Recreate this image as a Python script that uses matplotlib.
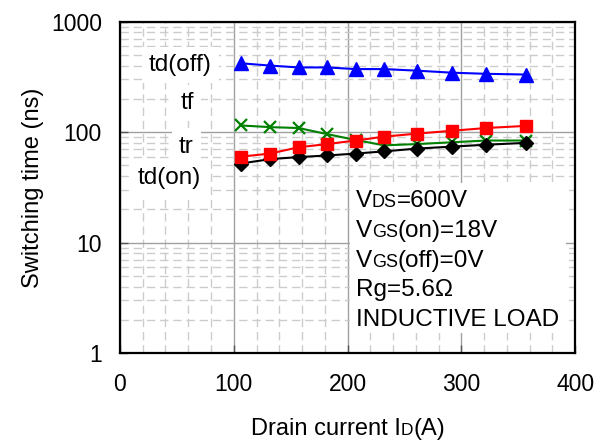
import numpy as np
import matplotlib
matplotlib.use("Agg")
import matplotlib.pyplot as plt
from matplotlib.ticker import FixedLocator, MultipleLocator, LogLocator, NullFormatter
from matplotlib.patches import Rectangle

plt.rcParams['font.family'] = ['Liberation Sans', 'DejaVu Sans']

# drain current (A) and switching times (ns)
drain_current = [106, 132, 157, 182, 207, 232, 261, 292, 322, 357]
td_off = [420, 400, 385, 385, 372, 372, 360, 345, 337, 332]
tf = [115, 111, 109, 96, 85, 76, 78, 81, 84, 84]
tr = [60, 64, 73, 78, 84, 91, 97, 103, 109, 114]
td_on = [52, 57, 59.5, 61.5, 64, 67, 71, 74, 77, 80]

y_ticks = [1, 10, 100, 1000]
x_ticks = [0, 100, 200, 300, 400]

TICK = 16.5
LABEL = 17
BIG = 17.5
SMALL = 13


def desc(big, small):
    # baseline shift between two font sizes (pt)
    return 0.212 * (big - small)


fig = plt.figure(figsize=(6.06, 4.41), dpi=100)
ax = fig.add_axes([0.198, 0.199, 0.751, 0.752])

ax.set_yscale('log')
ax.set_xlim(0, 400)
ax.set_ylim(1, 1000)

ax.xaxis.set_major_locator(FixedLocator(x_ticks))
ax.xaxis.set_minor_locator(MultipleLocator(20))
ax.yaxis.set_major_locator(FixedLocator(y_ticks))
ax.yaxis.set_minor_locator(LogLocator(base=10, subs=np.arange(2, 10)))
ax.yaxis.set_minor_formatter(NullFormatter())
ax.set_xticklabels([str(v) for v in x_ticks])
ax.set_yticklabels([str(v) for v in y_ticks])

ax.grid(which='major', color='#a0a0a0', lw=1.0, ls='-')
ax.grid(which='minor', color='#cccccc', lw=1.0, ls=(0, (6, 3.5)))
ax.set_axisbelow(True)

ax.tick_params(which='major', direction='in', length=6, width=1, color='#555555',
               labelsize=TICK, pad=14)
ax.tick_params(axis='y', which='major', pad=13)
ax.tick_params(which='minor', length=0)
for s in ax.spines.values():
    s.set_linewidth(1.6)
    s.set_color('black')

ax.plot(drain_current, tf, color='#008000', lw=1.5, marker='x', ms=9, mew=1.6, zorder=3)
ax.plot(drain_current, td_on, color='black', lw=1.5, marker='D', ms=7, zorder=4)
ax.plot(drain_current, tr, color='#ff0000', lw=1.5, marker='s', ms=8.5, zorder=4)
ax.plot(drain_current, td_off, color='#0000ff', lw=1.5, marker='^', ms=10, zorder=4)

# series names with white backgrounds
box = dict(facecolor='white', edgecolor='none', boxstyle='square,pad=0.3')
for txt, x, y in [('td(off)', 0.133, 0.869), ('tf', 0.148, 0.754),
                  ('tr', 0.146, 0.623), ('td(on)', 0.109, 0.528)]:
    ax.text(x, y, txt, transform=ax.transAxes, ha='center', va='center',
            fontsize=BIG, bbox=box, zorder=5)


def chain_text(first, parts, big, small, **kw):
    """Place text pieces one after another, small pieces on the same baseline."""
    prev = first
    prev_small = False
    d = desc(big, small)
    for s, is_small in parts:
        dy = 0.0
        if is_small and not prev_small:
            dy = d
        elif not is_small and prev_small:
            dy = -d
        prev = ax.annotate(s, xy=(1, 0), xycoords=prev, xytext=(0, dy),
                           textcoords='offset points', va='bottom', ha='left',
                           fontsize=small if is_small else big,
                           annotation_clip=False, **kw)
        prev_small = is_small
    return prev


# conditions box
ax.add_patch(Rectangle((0.505, 0.061), 0.475, 0.453, transform=ax.transAxes,
                       facecolor='white', edgecolor='none', zorder=2.5))
cond_x = 0.518
lines = [
    (0.441, [('V', False), ('DS', True), ('=600V', False)]),
    (0.351, [('V', False), ('GS', True), ('(on)=18V', False)]),
    (0.260, [('V', False), ('GS', True), ('(off)=0V', False)]),
    (0.174, [('Rg=5.6\u03a9', False)]),
    (0.083, [('INDUCTIVE LOAD', False)]),
]
for y, parts in lines:
    t = ax.text(cond_x, y - 0.016, parts[0][0], transform=ax.transAxes, fontsize=BIG,
                va='bottom', ha='left', zorder=6)
    if len(parts) > 1:
        chain_text(t, parts[1:], BIG, SMALL, zorder=6)

# axis labels
ax.set_ylabel('Switching time (ns)', fontsize=LABEL, labelpad=5)
xl = fig.text(0.414, 0.003, 'Drain current I', fontsize=LABEL, va='bottom', ha='left')
chain_text(xl, [('D', True), ('(A)', False)], LABEL, LABEL - 4.5)

fig.savefig('out.png', dpi=100)
